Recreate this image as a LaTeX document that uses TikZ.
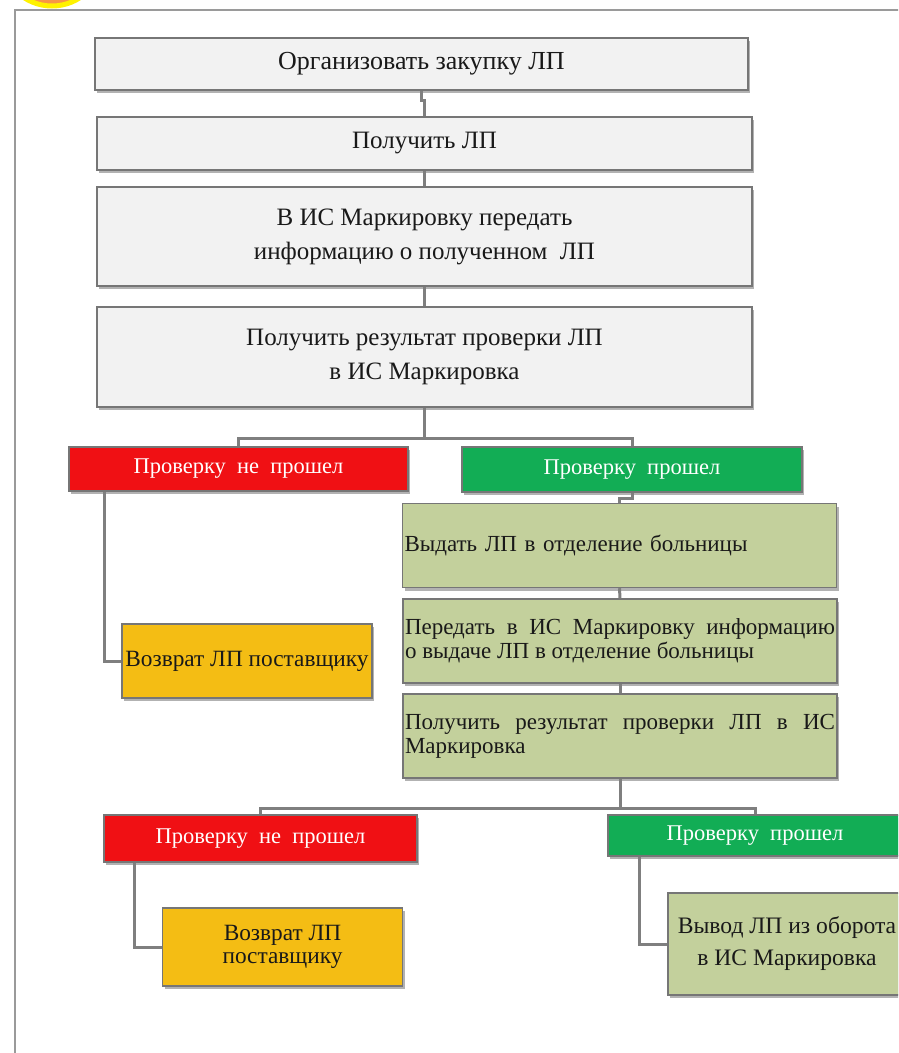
\documentclass[tikz,border=0pt]{standalone}
\usepackage{fontspec}
\setmainfont{Liberation Serif}
\usetikzlibrary{shadows}
\definecolor{boxgray}{HTML}{F2F2F2}
\definecolor{bordergray}{HTML}{767676}
\definecolor{linegray}{HTML}{7F7F7F}
\definecolor{redbox}{HTML}{F01014}
\definecolor{greenbox}{HTML}{12AD55}
\definecolor{olivebox}{HTML}{C3D09C}
\definecolor{yellowbox}{HTML}{F4BD14}
\definecolor{framegray}{HTML}{9A9A9A}
\definecolor{orangec}{HTML}{F79646}
\definecolor{yellowc}{HTML}{FFF200}
\begin{document}
\begin{tikzpicture}[x=1pt,y=-1pt,
  box/.style={draw=bordergray, line width=1.4pt, inner sep=2pt,
    drop shadow={shadow xshift=2pt, shadow yshift=-3pt, fill=black, opacity=0.3}},
  graybox/.style={box, fill=boxgray, align=center, text=black!90,
    font=\fontsize{25}{34}\selectfont},
  redbx/.style={box, fill=redbox, text=white, font=\fontsize{22.5}{26}\selectfont},
  greenbx/.style={box, fill=greenbox, text=white, font=\fontsize{22.5}{26}\selectfont},
  olivebx/.style={box, fill=olivebox, text=black!90, minimum width=434pt, minimum height=84pt,
    text width=430pt, font=\fontsize{23}{24}\selectfont},
  yellowbx/.style={box, fill=yellowbox, text=black!90, align=center,
    font=\fontsize{23.3}{23}\selectfont},
  conn/.style={draw=linegray, line width=3pt}
]
\useasboundingbox (0,0) rectangle (898,1053);
\clip (0,0) rectangle (898,1053);
% frame and corner mark
\draw[framegray, line width=2pt] (15,1060) coordinate (fbl) -- (15,10) coordinate (ftl) -- (905,10) coordinate (ftr);
\fill[orangec, draw=yellowc, line width=5pt] (52,-45) circle (51);

% gray boxes
\node[graybox, minimum width=653pt, minimum height=52pt, font=\fontsize{26}{34}\selectfont] (b1) at (421.5,64) {Организовать закупку ЛП};
\node[graybox, minimum width=655pt, minimum height=53pt] (b2) at (424.5,143.5) {Получить ЛП};
\node[graybox, minimum width=655pt, minimum height=99pt] (b3) at (424.5,236.5) {В ИС Маркировку передать\\информацию о полученном~ ЛП};
\node[graybox, minimum width=655pt, minimum height=100pt] (b4) at (424.5,357) {Получить результат проверки ЛП\\в ИС Маркировка};

% first results
\node[redbx, minimum width=339pt, minimum height=44pt] (r1) at (238.5,469) {Проверку~ не~ прошел};
\node[greenbx, minimum width=340pt, minimum height=45pt] (g1) at (632,469.5) {Проверку~ прошел};

% olive boxes
\node[olivebx, align=left] (o1) at (619.5,545.5) {Выдать ЛП в отделение больницы};
\node[olivebx, align=justify] (o2) at (620,641) {Передать в ИС Маркировку информацию\linebreak о выдаче ЛП в отделение больницы};
\node[olivebx, align=justify] (o3) at (620,736) {Получить результат проверки ЛП в ИС\linebreak Маркировка};

\node[yellowbx, minimum width=250pt, minimum height=74pt] (y1) at (247,661) {Возврат ЛП поставщику};

% second results
\node[redbx, minimum width=313pt, minimum height=47pt] (r2) at (260.5,838.5) {Проверку~ не~ прошел};
\node[greenbx, minimum width=294pt, minimum height=41pt] (g2) at (755,835.5) {Проверку~ прошел};
\node[yellowbx, minimum width=240pt, minimum height=78pt] (y2) at (282.5,947) {Возврат ЛП\\поставщику};
\node[yellowbx, fill=olivebox, minimum width=238pt, minimum height=102pt,
  font=\fontsize{23.6}{32}\selectfont] (o4) at (787,944) {Вывод ЛП из оборота\\в ИС Маркировка};

% connectors
\draw[conn] (b1.south) -- ++(0,10) -| (b2.north);
\draw[conn] (b2.south) -- (b3.north);
\draw[conn] (b3.south) -- (b4.north);
\draw[conn] (b4.south) -- ++(0,31) coordinate (s1);
\draw[conn] (r1.north) |- (s1) -| (g1.north);
\draw[conn] (g1.south) -- ++(0,6) -| (o1.north);
\draw[conn] (o1.south) -- (o2.north);
\draw[conn] (o2.south) -- (o3.north);
\draw[conn] (o3.south) -- ++(0,30) coordinate (s2);
\draw[conn] (r2.north) |- (s2) -| (g2.north);
\draw[conn] ([xshift=36pt]r1.south west) |- (y1.west);
\draw[conn] ([xshift=31pt]r2.south west) |- (y2.west);
\draw[conn] ([xshift=32pt]g2.south west) |- (o4.west);
\end{tikzpicture}
\end{document}
